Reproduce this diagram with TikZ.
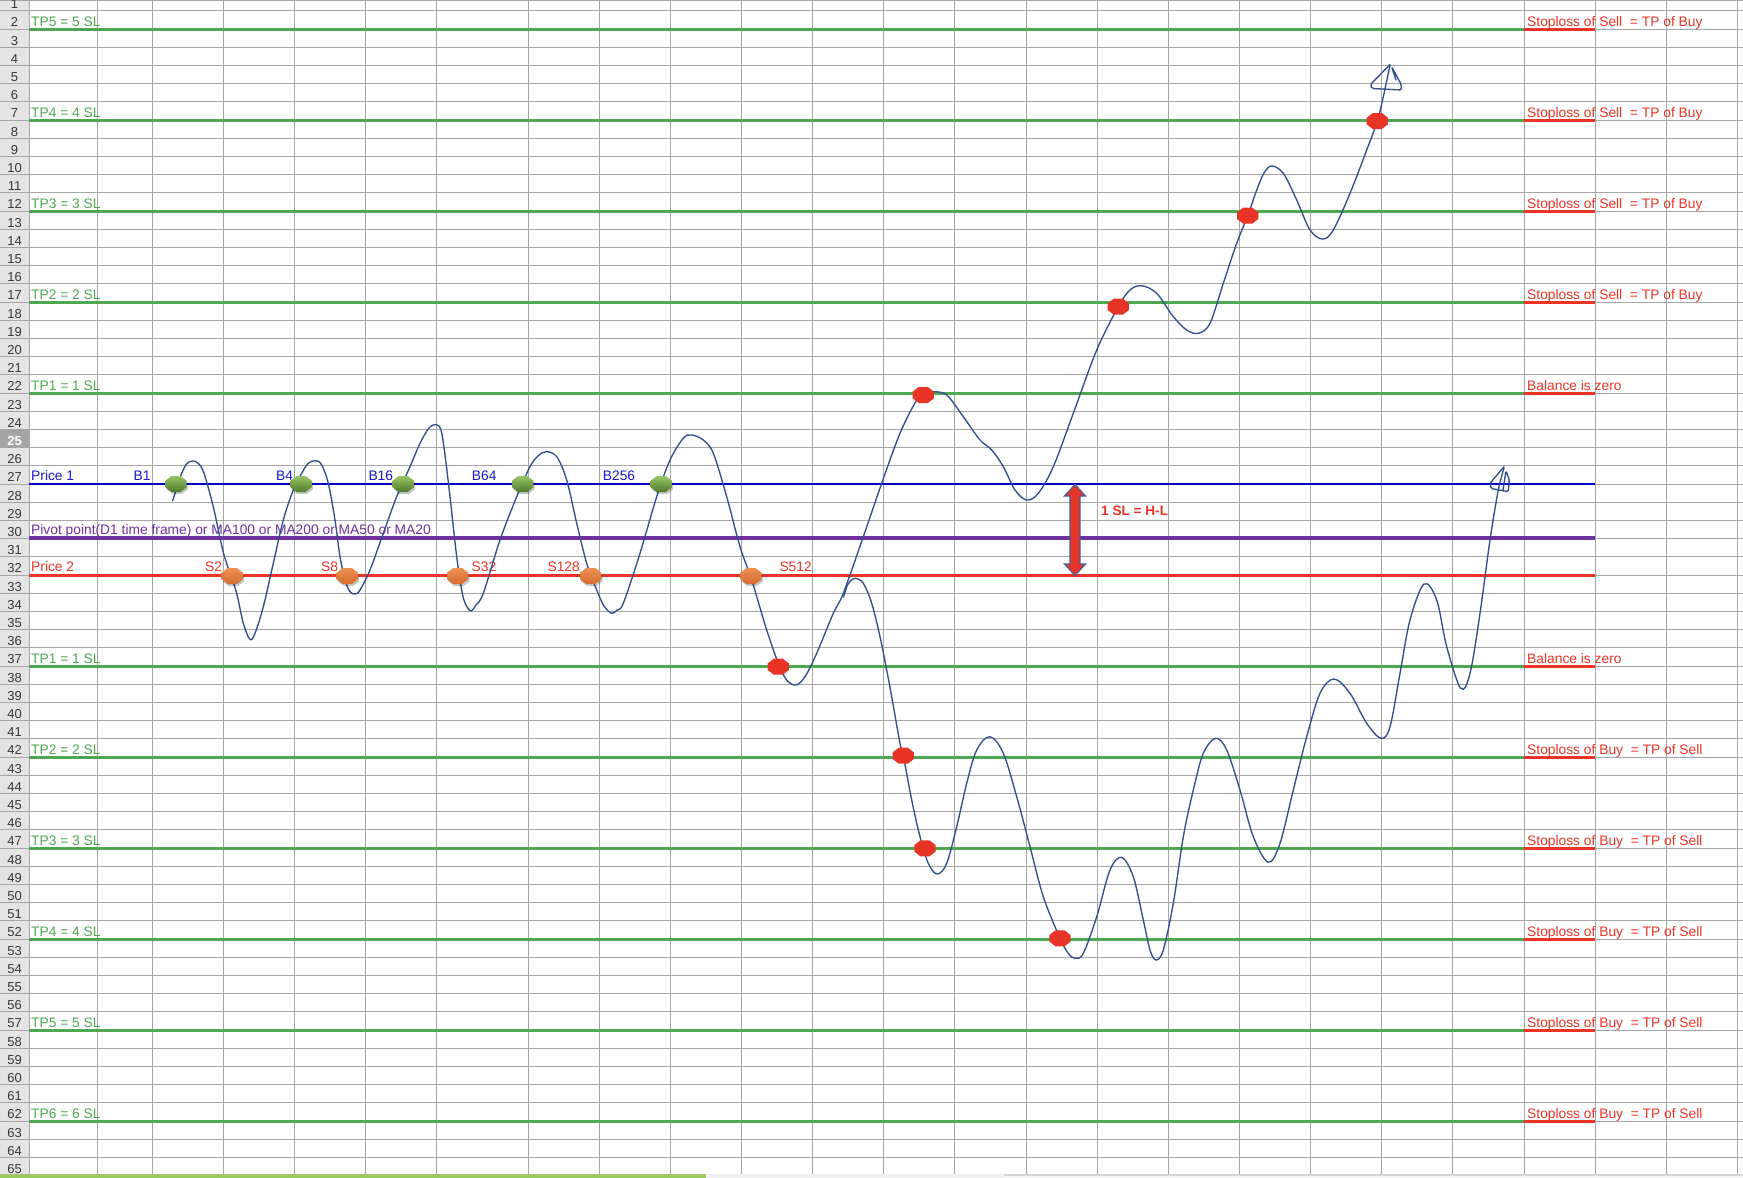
\documentclass[tikz,border=0pt]{standalone}
\usepackage{fontspec}
\setmainfont{Liberation Sans}
\definecolor{tpgreen}{RGB}{78,168,82}
\definecolor{slred}{RGB}{236,52,38}
\definecolor{p1blue}{RGB}{0,0,200}
\definecolor{txtblue}{RGB}{25,25,210}
\definecolor{pivpurple}{RGB}{112,48,160}
\definecolor{curveblue}{RGB}{47,79,143}
\definecolor{gridgray}{RGB}{166,166,166}
\definecolor{hdrbg}{RGB}{228,228,228}
\definecolor{hdrsel}{RGB}{165,165,165}
\definecolor{hdrtxt}{RGB}{55,55,55}
\definecolor{arrowedge}{RGB}{70,96,150}
\definecolor{gtop}{RGB}{152,198,102}
\definecolor{gbot}{RGB}{78,122,44}
\definecolor{otop}{RGB}{238,145,84}
\definecolor{obot}{RGB}{212,108,48}
\definecolor{dotred}{RGB}{232,52,38}
\definecolor{scrollg}{RGB}{155,203,95}
\tikzset{
  gridl/.style={draw=gridgray, line width=0.9},
  tpline/.style={draw=tpgreen, line width=3.2},
  ulred/.style={draw=slred, line width=2.8},
  lbl/.style={inner sep=0, anchor=base west, font=\fontsize{13.8}{16}\selectfont},
  lble/.style={lbl, anchor=base east},
  greentxt/.style={lbl, text=tpgreen},
  redtxt/.style={lbl, text=slred},
  rownum/.style={inner sep=0, anchor=base, font=\fontsize{13}{15}\selectfont, text=hdrtxt},
  curve/.style={draw=curveblue, line width=1.35, line cap=round, line join=round},
  octa/.pic={\path[pic actions] (-10.6,-3.3) -- (-4.5,-8) -- (4.5,-8) -- (10.6,-3.3) -- (10.6,3.3) -- (4.5,8) -- (-4.5,8) -- (-10.6,3.3) -- cycle;},
  shadowmark/.style={fill=black, opacity=0.22},
  greenmark/.style={top color=gtop, bottom color=gbot, draw=none},
  orangemark/.style={top color=otop, bottom color=obot, draw=none},
  redmark/.style={fill=dotred, draw=none},
}
\begin{document}
\begin{tikzpicture}[x=1pt, y=-1pt]
\clip (0,0) rectangle (1743,1178);
\fill[white] (0,0) rectangle (1743,1178);
% row header
\fill[hdrbg] (0,0) rectangle (29.3,1175.6);
\fill[hdrsel] (0,429.4) rectangle (29.3,447.6);
% grid
\foreach \n in {1,...,65} {\draw[gridl] (0,{10.8+18.2*(\n-1)}) -- (1743,{10.8+18.2*(\n-1)});}
\draw[gridl] (0,0.4) -- (1743,0.4);
\foreach \xx in {29.3,97.3,152.3,223.3,294.7,365.7,436.7,528.3,599.3,670.3,741.5,812.6,883.7,954.8,1026,1097,1168,1239.3,1310.5,1381.7,1452.8,1524,1595,1666,1737.3} {\draw[gridl] (\xx,0) -- (\xx,1175.6);}
% row numbers
\foreach \n in {1,...,24} {\node[rownum] (r\n) at (14.6,{10.8+18.2*(\n-1)-2.2}) {\n};}
\node[rownum, text=white, font=\fontsize{13}{15}\selectfont\bfseries] (r25) at (14.6,{10.8+18.2*24-2.2}) {25};
\foreach \n in {26,...,65} {\node[rownum] (r\n) at (14.6,{10.8+18.2*(\n-1)-2.2}) {\n};}
% TP lines
\foreach \n in {2,7,12,17,22,37,42,47,52,57,62} {
  \draw[tpline] (29.3,{10.8+18.2*(\n-1)+0.5}) -- (1524,{10.8+18.2*(\n-1)+0.5});
  \draw[ulred] (1524,{10.8+18.2*(\n-1)+0.5}) -- (1595,{10.8+18.2*(\n-1)+0.5});
}
% price lines
\draw[draw=p1blue, line width=2.8] (29.3,484) -- (1595,484);
\draw[draw=pivpurple, line width=3.6] (29.3,538) -- (1595,538);
\draw[draw=slred, line width=2.6] (29.3,575.3) -- (1595,575.3);
% left labels
\node[greentxt] (l2) at (31,26) {TP5 = 5 SL};
\node[greentxt] (l7) at (31,117) {TP4 = 4 SL};
\node[greentxt] (l12) at (31,208) {TP3 = 3 SL};
\node[greentxt] (l17) at (31,299) {TP2 = 2 SL};
\node[greentxt] (l22) at (31,390) {TP1 = 1 SL};
\node[greentxt] (l37) at (31,663) {TP1 = 1 SL};
\node[greentxt] (l42) at (31,754) {TP2 = 2 SL};
\node[greentxt] (l47) at (31,845) {TP3 = 3 SL};
\node[greentxt] (l52) at (31,936) {TP4 = 4 SL};
\node[greentxt] (l57) at (31,1027) {TP5 = 5 SL};
\node[greentxt] (l62) at (31,1118) {TP6 = 6 SL};
% right labels
\node[redtxt] (rr2) at (1527,26) {Stoploss of Sell\ \ = TP of Buy};
\node[redtxt] (rr7) at (1527,117) {Stoploss of Sell\ \ = TP of Buy};
\node[redtxt] (rr12) at (1527,208) {Stoploss of Sell\ \ = TP of Buy};
\node[redtxt] (rr17) at (1527,299) {Stoploss of Sell\ \ = TP of Buy};
\node[redtxt] (rr22) at (1527,390) {Balance is zero};
\node[redtxt] (rr37) at (1527,663) {Balance is zero};
\node[redtxt] (rr42) at (1527,754) {Stoploss of Buy\ \ = TP of Sell};
\node[redtxt] (rr47) at (1527,845) {Stoploss of Buy\ \ = TP of Sell};
\node[redtxt] (rr52) at (1527,936) {Stoploss of Buy\ \ = TP of Sell};
\node[redtxt] (rr57) at (1527,1027) {Stoploss of Buy\ \ = TP of Sell};
\node[redtxt] (rr62) at (1527,1118) {Stoploss of Buy\ \ = TP of Sell};
% price labels
\node[lbl, text=txtblue] (price1) at (31,480) {Price 1};
\node[lble, text=txtblue] (tb1) at (150.7,480) {B1};
\node[lble, text=txtblue] (tb4) at (293.3,480) {B4};
\node[lbl, text=txtblue] (tb16) at (368.3,480) {B16};
\node[lbl, text=txtblue] (tb64) at (471.7,480) {B64};
\node[lbl, text=txtblue] (tb256) at (602.7,480) {B256};
\node[lbl, text=pivpurple] (pivot) at (31,534.5) {Pivot point(D1 time frame) or MA100 or MA200 or MA50 or MA20};
\node[redtxt] (price2) at (31,571.8) {Price 2};
\node[lble, text=slred] (ts2) at (222.3,571.8) {S2};
\node[lble, text=slred] (ts8) at (338.3,571.8) {S8};
\node[redtxt] (ts32) at (471.5,571.8) {S32};
\node[lble, text=slred] (ts128) at (580,571.8) {S128};
\node[redtxt] (ts512) at (779.3,571.8) {S512};
\node[redtxt, font=\fontsize{13.6}{16}\selectfont\bfseries] (hl) at (1101,515.5) {1 SL = H-L};
% double arrow
\filldraw[fill=dotred, draw=arrowedge, line width=1.2, line join=miter]
  (1075,484.5) -- (1085.5,496) -- (1080,496) -- (1080,564) -- (1085.5,564) -- (1075,575.5)
  -- (1064.5,564) -- (1070,564) -- (1070,496) -- (1064.5,496) -- cycle;
% curves
\draw[curve] plot[smooth, tension=0.55] coordinates {
(172.7,500.7) (177,487) (181.7,473.3) (186.7,463.8) (192.3,461) (198.3,463.3) (204,473.3) (213.3,506.7) (222.7,550) (230,573.3) (236.7,593.3) (243.3,623.3) (250,639.3) (255,633.3) (263.3,606.7) (273.3,563.3) (283.3,520) (293.3,490) (301.7,473.3) (308.3,463.3) (316,460.7) (321.7,465) (328.3,483.3) (335,520) (340,556.7) (345,580) (350,591.7) (355.3,594) (360,590) (370,570) (383.3,533.3) (396.7,496.7) (410,466.7) (420,443.3) (429,428) (435.8,424.6) (441,430) (445,455) (450,496.7) (456.7,556.7) (461.7,590) (465,603) (470.7,611) (476,605) (483.3,593.3) (500,540) (516.7,496.7) (530,466.7) (538,456) (546,451.7) (556.7,456.7) (566.7,480) (576.7,523.3) (586.7,563.3) (596.7,590) (604,606) (611.7,613.3) (617,610) (623.3,603.3) (640,553.3) (656.7,496.7) (670,460) (683.3,438.3) (691.5,435) (703.3,440) (713.3,453.3) (726.7,496.7) (740,546.7) (751.7,580) (766.7,630) (778.3,663.3) (786.7,680) (796,685) (805,676.7) (816.7,653.3) (833.3,613.3) (843.3,593.3) (863.3,536.7) (881.7,483.3) (900,433.3) (916.7,400) (925,392.5) (933.3,391.7) (946.7,395) (963.3,416.7) (980,440) (991.7,450) (1003.3,466.7) (1015,490) (1026.7,500) (1038.3,493.3) (1053.3,466.7) (1073.3,413.3) (1096.7,350) (1118.3,306.7) (1130,290) (1141.7,285.7) (1156.7,293.3) (1173.3,316.7) (1186.7,330) (1198.3,333.3) (1210,323.3) (1223.3,283.3) (1236.7,243.3) (1247.7,215.7) (1256.7,190) (1264,173) (1271.7,166) (1283.3,173.3) (1296.7,200) (1310,230) (1322.7,239) (1333.3,230) (1350,193.3) (1366.7,150) (1377.3,121) (1383.3,96.7) (1390,65)};
\draw[curve, rounded corners=1.5] (1390,64.5) -- (1370.5,84.5) -- (1372,88.5) -- (1401.5,90) -- (1401,84) -- (1391.5,66.5) -- (1396,80);
\draw[curve] plot[smooth, tension=0.55] coordinates {
(843.5,597) (846,589) (848.5,583.3) (855,578.3) (863.3,583.3) (871.7,603.3) (880,636.7) (886.7,670) (891.7,696.7) (900,743.3) (903.3,755.7) (911.7,800) (920,836.7) (928.3,863.3) (937.3,874) (946.7,863.3) (956.7,826.7) (966.7,783.3) (976.7,750) (990,736.7) (1003.3,753.3) (1016.7,796.7) (1030,846.7) (1043.3,896.7) (1060,938.3) (1068.3,953.3) (1075,958.3) (1083.3,953.3) (1096.7,916.7) (1110,870) (1121.7,857.3) (1133.3,876.7) (1143.3,920) (1150,950) (1156,960) (1163.3,950) (1173.3,903.3) (1183.3,836.7) (1193.3,790) (1203.3,753.3) (1215.7,738.3) (1226.7,750) (1240,790) (1253.3,836.7) (1268.3,862.3) (1280,843.3) (1293.3,790) (1306.7,736.7) (1320,693.3) (1334,679) (1350,693.3) (1366.7,723.3) (1381,738.3) (1390,726.7) (1400,673.3) (1410,620) (1424,584) (1436.7,600) (1446.7,646.7) (1460.7,688.3) (1470,673.3) (1480,613.3) (1490,540) (1498.3,490) (1504,468.3)};
\draw[curve, rounded corners=1.5] (1504,466.7) -- (1490,483.3) -- (1491,488.5) -- (1508.3,491.7) -- (1509.3,480) -- (1506,470.7) -- (1503,490);
% markers: shadows
\foreach \mx in {176,301,403.3,522.7,661.3} {\pic[shadowmark] at ({\mx+1.2},{484+2.2}) {octa};}
\foreach \mx in {232.3,347.3,457.7,590.7,751} {\pic[shadowmark] at ({\mx+1.2},{576+2.2}) {octa};}
% markers
\foreach \mx [count=\i] in {176,301,403.3,522.7,661.3} {\pic[greenmark] (gm\i) at (\mx,484) {octa};}
\foreach \mx [count=\i] in {232.3,347.3,457.7,590.7,751} {\pic[orangemark] (om\i) at (\mx,576) {octa};}
\foreach \mx/\my [count=\i] in {778.3/666.7, 923.3/395, 903.3/755.7, 925/848.3, 1060/938.3, 1118.3/306.7, 1247.7/215.7, 1377.3/121} {\pic[redmark] (rm\i) at (\mx,\my) {octa};}
% scrollbar
\fill[scrollg] (0,1174) rectangle (706,1178);
\fill[white!94!black] (706,1174) rectangle (1004,1178);
\fill[white!84!black] (1004,1174) rectangle (1743,1175.5);
\fill[white!96!black] (1004,1175.5) rectangle (1743,1178);
\end{tikzpicture}
\end{document}
